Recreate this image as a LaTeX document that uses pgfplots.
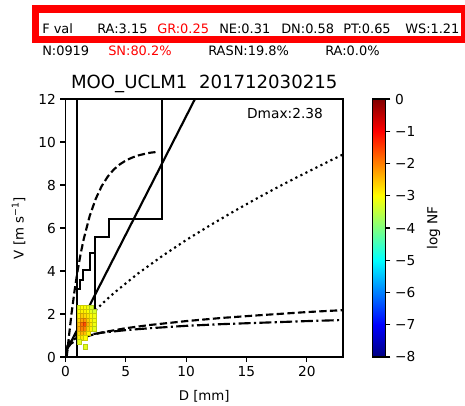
\documentclass[border=0pt]{standalone}
\usepackage{fontspec}
\setmainfont{DejaVu Sans}
\usepackage{pgfplots}
\pgfplotsset{compat=1.18}

\newcommand\hdr{\fontsize{9.7}{11}\selectfont}
\newcommand\tck{\fontsize{10.3}{12}\selectfont}

\begin{document}
\begin{tikzpicture}
\useasboundingbox (-49.125pt,-36pt) rectangle (299.625pt,267.75pt);
\begin{axis}[
  at={(0,0)}, anchor=south west,
  scale only axis, width=208.125pt, height=193.5pt,
  xmin=0, xmax=23, ymin=0, ymax=12,
  xtick={0,5,10,15,20}, ytick={0,2,...,12},
  tick pos=left, tick align=outside,
  major tick length=3.75pt,
  major tick style={black, line width=0.9pt},
  axis line style={line width=0.9pt},
  tick label style={font=\tck},
  /pgf/number format/assume math mode=true,
  xlabel={D [mm]}, ylabel={V [m s\textsuperscript{−1}]},
  label style={font=\tck},
  every axis x label/.style={at={(axis description cs:0.5,-0.151)}, anchor=center},
  every axis y label/.style={at={(axis description cs:-0.169,0.5)}, rotate=90, anchor=center},
  title={MOO\_UCLM1\ \ 201712030215},
  every axis title/.style={at={(axis description cs:0.5,1)}, anchor=base, yshift=8.25pt, font=\fontsize{13.6}{16}\selectfont},
  colormap/jet, point meta min=-8, point meta max=0,
  colorbar,
  colorbar style={
    at={(parent axis.north east)}, anchor=north west, xshift=13.5pt,
    width=9.75pt,
    ytick={-8,-7,...,0},
    yticklabels={−8,−7,−6,−5,−4,−3,−2,−1,0},
    ytick pos=right, yticklabel pos=right, tick align=outside,
    major tick length=3.75pt,
    major tick style={black, line width=0.9pt},
    axis line style={line width=0.9pt},
    tick label style={font=\tck},
    ylabel={log NF},
    every axis y label/.style={at={(axis description cs:4.7,0.5)}, rotate=90, anchor=center, font=\tck},
  },
]
% log number fraction per (D,V) bin
\addplot[scatter, only marks, mark=square*, scatter src=explicit,
  mark size=1.8pt, mark options={xscale=0.72}] table[meta=c]{
x y c
1.125 2.3 -3.2
1.375 2.3 -3.0
1.625 2.3 -3.0
1.875 2.3 -3.1
2.125 2.3 -3.3
1.125 2.1 -3.0
1.375 2.1 -2.9
1.625 2.1 -2.9
1.875 2.1 -3.0
2.125 2.1 -3.2
2.375 2.1 -3.3
1.125 1.9 -2.9
1.375 1.9 -2.6
1.625 1.9 -2.7
1.875 1.9 -2.8
2.125 1.9 -3.0
2.375 1.9 -3.1
1.125 1.7 -2.7
1.375 1.7 -2.3
1.625 1.7 -2.2
1.875 1.7 -2.6
2.125 1.7 -2.9
2.375 1.7 -3.1
1.125 1.5 -2.5
1.375 1.5 -1.9
1.625 1.5 -1.6
1.875 1.5 -2.4
2.125 1.5 -2.8
2.375 1.5 -3.1
1.125 1.3 -2.4
1.375 1.3 -2.0
1.625 1.3 -2.0
1.875 1.3 -2.6
2.125 1.3 -2.9
2.375 1.3 -3.2
1.125 1.1 -2.7
1.375 1.1 -2.4
1.625 1.1 -2.5
1.875 1.1 -2.9
1.125 0.9 -2.9
1.375 0.9 -2.8
1.625 0.9 -3.0
1.125 0.7 -3.2
1.625 0.48 -3.2
};
% bounds
\addplot[black, line width=1.6pt] coordinates {(0.93,0) (0.93,12)};
\addplot[black, line width=1.6pt] coordinates {(0.93,3.15) (1.2,3.15) (1.2,3.58) (1.43,3.58) (1.43,4.05) (2.03,4.05) (2.03,4.82) (2.46,4.82) (2.46,5.6) (3.57,5.6) (3.57,6.42) (8.0,6.42) (8.0,12.5)};
\addplot[black, line width=1.6pt] coordinates {(2.46,5.6) (2.46,1.95) (2.07,1.95) (2.07,1.83) (1.7,1.83) (1.7,1.6) (1.43,1.6) (1.43,1.4) (1.2,1.4) (1.2,1.2) (0.93,1.2)};
\addplot[black, line width=1.6pt] coordinates {(0,0.2) (10.73,12)};
% rain
\addplot[black, line width=1.6pt, dash pattern=on 5.5pt off 2.5pt] coordinates {
(0.1,0) (0.25,0.79) (0.5,2.02) (0.75,3.08) (1.0,4.00) (1.25,4.78) (1.5,5.46)
(2.0,6.55) (2.5,7.35) (3.0,7.95) (3.5,8.39) (4.0,8.72) (4.5,8.96) (5.0,9.14)
(5.5,9.27) (6.0,9.37) (6.5,9.44) (7.0,9.50) (7.6,9.54)};
% graupel
\addplot[black, line width=1.6pt, dash pattern=on 1.6pt off 2.6pt] coordinates {
(0,0) (0.1,0.26) (0.5,0.75) (1,1.19) (2,1.88) (3,2.46) (4,2.97) (6,3.88) (8,4.69)
(10,5.44) (12,6.13) (14,6.79) (16,7.42) (18,8.02) (20,8.59) (22,9.15) (23,9.42)};
% snow
\addplot[black, line width=1.6pt, dash pattern=on 5.5pt off 2.5pt] coordinates {
(0,0) (0.05,0.31) (0.2,0.48) (0.5,0.64) (1,0.80) (2,1.00) (3,1.14) (5,1.34)
(7,1.49) (10,1.67) (13,1.82) (16,1.94) (20,2.09) (23,2.18)};
\addplot[black, line width=1.6pt, dash pattern=on 9pt off 2.5pt on 1.6pt off 2.5pt] coordinates {
(0,0) (0.2,0.65) (0.5,0.78) (1,0.90) (2,1.04) (3,1.13) (5,1.25) (7,1.34)
(10,1.45) (13,1.53) (16,1.59) (20,1.67) (23,1.72)};
\node[font=\tck] at (rel axis cs:0.791,0.942) {Dmax:2.38};
\end{axis}
\begin{scope}[shift={(-49.125pt,267.75pt)}, x=0.75pt, y=-0.75pt]
\draw[red, line width=5.6pt] (35.5,9) rectangle (464.75,39.5);
\begin{scope}[every node/.style={anchor=base west, inner sep=0pt, font=\hdr}]
\node at (42,33) {F val};
\node at (97,33) {RA:3.15};
\node[red] at (157,33) {GR:0.25};
\node at (219,33) {NE:0.31};
\node at (281,33) {DN:0.58};
\node at (343,33) {PT:0.65};
\node at (405,33) {WS:1.21};
\node at (42,55) {N:0919};
\node[red] at (108,55) {SN:80.2\%};
\node at (208,55) {RASN:19.8\%};
\node at (325,55) {RA:0.0\%};
\end{scope}
\end{scope}
\end{tikzpicture}
\end{document}
